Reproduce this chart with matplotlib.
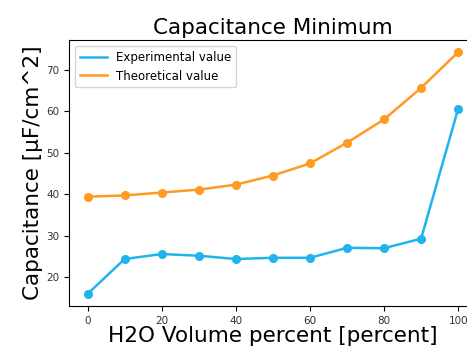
import numpy as np
import matplotlib
matplotlib.use('Agg')
import matplotlib.pyplot as plt
from matplotlib.lines import Line2D

# H2O volume percent
h2o = [0, 10, 20, 30, 40, 50, 60, 70, 80, 90, 100]
# capacitance minimum [uF/cm^2]
experimental = [16.0, 24.4, 25.6, 25.2, 24.4, 24.7, 24.7, 27.1, 27.0, 29.3, 60.6]
theoretical = [39.4, 39.7, 40.4, 41.1, 42.3, 44.5, 47.4, 52.4, 58.0, 65.6, 74.2]

c_exp = '#1fb5ec'
c_th = '#ff9a22'

fig = plt.figure(figsize=(4.67, 3.53), dpi=100)
ax = fig.add_axes([0.1478, 0.1331, 0.873, 0.7535])

ax.plot(h2o, experimental, '-o', color=c_exp, lw=1.8, ms=5.5)
ax.plot(h2o, theoretical, '-o', color=c_th, lw=1.8, ms=5.5)

ax.set_title('Capacitance Minimum', fontsize=15.5, pad=4)
ax.set_xlabel('H2O Volume percent [percent]', fontsize=15.5, labelpad=0)
ax.set_ylabel('Capacitance [\u03bcF/cm^2]', fontsize=15.5, labelpad=2)
ax.tick_params(labelsize=7.5, length=3.5, labelcolor='#333333')
ax.set_xticks([0, 20, 40, 60, 80, 100])
ax.set_yticks([20, 30, 40, 50, 60, 70])

handles = [Line2D([], [], color=c_exp, lw=1.8), Line2D([], [], color=c_th, lw=1.8)]
ax.legend(handles, ['Experimental value', 'Theoretical value'],
          loc='upper left', fontsize=8.5, handlelength=2.3)

fig.savefig('out.png', dpi=100)
